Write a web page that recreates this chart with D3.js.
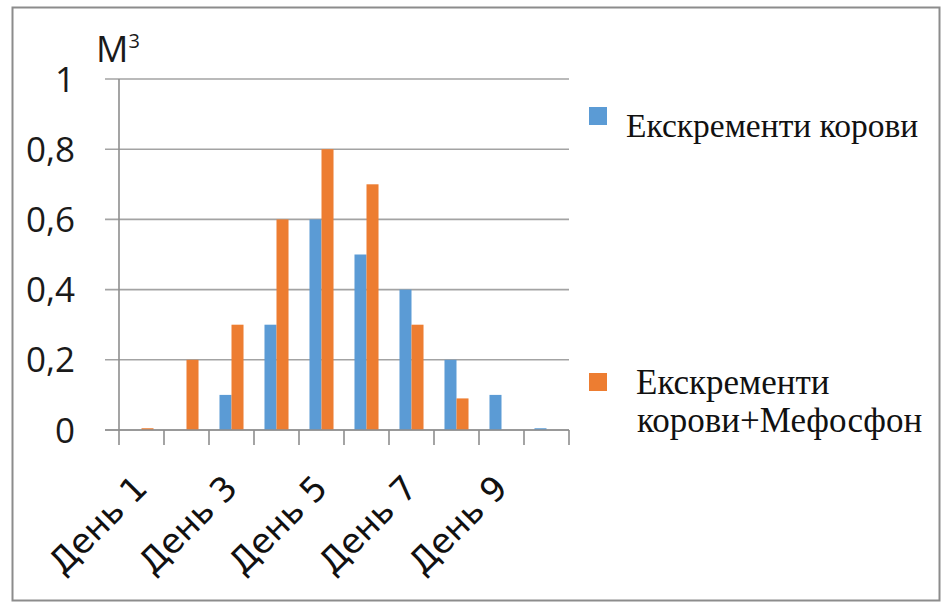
<!DOCTYPE html>
<html>
<head>
<meta charset="utf-8">
<script src="https://cdn.jsdelivr.net/npm/d3@7"></script>
<style>
  html, body { margin: 0; padding: 0; background: #fff; }
  svg { display: block; }
</style>
</head>
<body>
<svg id="chart" width="942" height="603"></svg>
<script>
// Daily gas output, m³
const days = ["День 1", "День 2", "День 3", "День 4", "День 5", "День 6", "День 7", "День 8", "День 9", "День 10"];
const shownDayLabels = ["День 1", "День 3", "День 5", "День 7", "День 9"];
const seriesNames = ["Екскременти корови", "Екскременти корови+Мефосфон"];
const manure = [0, 0, 0.1, 0.3, 0.6, 0.5, 0.4, 0.2, 0.1, 0.005];
const manureMefosfon = [0.005, 0.2, 0.3, 0.6, 0.8, 0.7, 0.3, 0.09, 0, 0];
const yTicks = [0, 0.2, 0.4, 0.6, 0.8, 1];
const yTickLabels = ["0", "0,2", "0,4", "0,6", "0,8", "1"];
const colors = ["#5b9bd5", "#ed7d31"];

const sansFont = '"Open Sans"';
const dayFont = '"DejaVu Sans"';
const legendFont = '"Liberation Serif"';

const svg = d3.select("#chart");

// outer frame
svg.append("rect")
  .attr("x", 12.5).attr("y", 7.5).attr("width", 927).attr("height", 593)
  .attr("fill", "none").attr("stroke", "#8c8c8c").attr("stroke-width", 2);

const plot = { left: 119, right: 569, top: 79, bottom: 430 };

const x = d3.scaleBand().domain(days).range([plot.left, plot.right]).padding(0);
const xInner = d3.scaleBand().domain(seriesNames)
  .range([x.bandwidth() * 0.233, x.bandwidth() * 0.767]).padding(0);
const y = d3.scaleLinear().domain([0, 1]).range([plot.bottom, plot.top]);

const gridColor = "#a3a3a3";

// horizontal gridlines (they also form the y tick marks)
svg.append("g").selectAll("line").data(yTicks).join("line")
  .attr("x1", plot.left - 14).attr("x2", plot.right)
  .attr("y1", d => y(d)).attr("y2", d => y(d))
  .attr("stroke", gridColor).attr("stroke-width", 1.6);

// bars
const rows = days.map((d, i) => ({ day: d, values: [manure[i], manureMefosfon[i]] }));
svg.append("g").selectAll("g").data(rows).join("g")
  .attr("transform", d => `translate(${x(d.day)},0)`)
  .selectAll("rect")
  .data(d => d.values.map((v, j) => ({ name: seriesNames[j], v, j })))
  .join("rect")
  .attr("x", d => xInner(d.name))
  .attr("width", xInner.bandwidth())
  .attr("y", d => y(d.v))
  .attr("height", d => y(0) - y(d.v))
  .attr("fill", d => colors[d.j]);

// x axis line and band boundary ticks
const axisColor = "#8e8e8e";
svg.append("line")
  .attr("x1", plot.left - 14).attr("x2", plot.right)
  .attr("y1", y(0)).attr("y2", y(0))
  .attr("stroke", axisColor).attr("stroke-width", 1.6);
const boundaries = days.map(d => x(d)).concat([plot.right]);
svg.append("g").selectAll("line").data(boundaries).join("line")
  .attr("x1", d => d).attr("x2", d => d)
  .attr("y1", y(0)).attr("y2", y(0) + 15)
  .attr("stroke", axisColor).attr("stroke-width", 1.6);

// y axis line
svg.append("line")
  .attr("x1", plot.left).attr("x2", plot.left)
  .attr("y1", y(1)).attr("y2", y(0))
  .attr("stroke", axisColor).attr("stroke-width", 1.6);

// y tick labels
svg.append("g").selectAll("text").data(yTicks).join("text")
  .attr("x", 75).attr("y", d => y(d))
  .attr("dy", "0.36em")
  .attr("text-anchor", "end")
  .style("font-family", sansFont)
  .style("font-size", "35px")
  .attr("fill", "#1a1a1a")
  .text((d, i) => yTickLabels[i]);

// unit label
const unit = svg.append("text")
  .attr("x", 96).attr("y", 62)
  .style("font-family", sansFont)
  .style("font-size", "36px")
  .attr("fill", "#1a1a1a");
unit.append("tspan").text("М");
unit.append("tspan").style("font-size", "20px").attr("dy", -14).text("3");

// rotated day labels
svg.append("g").selectAll("text").data(shownDayLabels).join("text")
  .attr("transform", d => `translate(${x(d) + x.bandwidth() / 2 - 9},${y(0) + 43}) rotate(-45)`)
  .attr("text-anchor", "end")
  .attr("dy", "0.7em")
  .style("font-family", dayFont)
  .style("font-size", "34px")
  .attr("fill", "#111")
  .text(d => d);

// legend
const legend = svg.append("g");
legend.append("rect").attr("x", 589).attr("y", 107).attr("width", 18).attr("height", 18).attr("fill", colors[0]);
legend.append("text").attr("x", 626).attr("y", 137)
  .style("font-family", legendFont).style("font-size", "33.5px").attr("fill", "#111")
  .text(seriesNames[0]);
legend.append("rect").attr("x", 589).attr("y", 373).attr("width", 18).attr("height", 18).attr("fill", colors[1]);
const l2 = legend.append("text")
  .style("font-family", legendFont).style("font-size", "35px").attr("fill", "#111");
l2.append("tspan").attr("x", 636).attr("y", 394).text("Екскременти");
l2.append("tspan").attr("x", 637).attr("y", 432).text("корови+Мефосфон");
</script>
</body>
</html>
